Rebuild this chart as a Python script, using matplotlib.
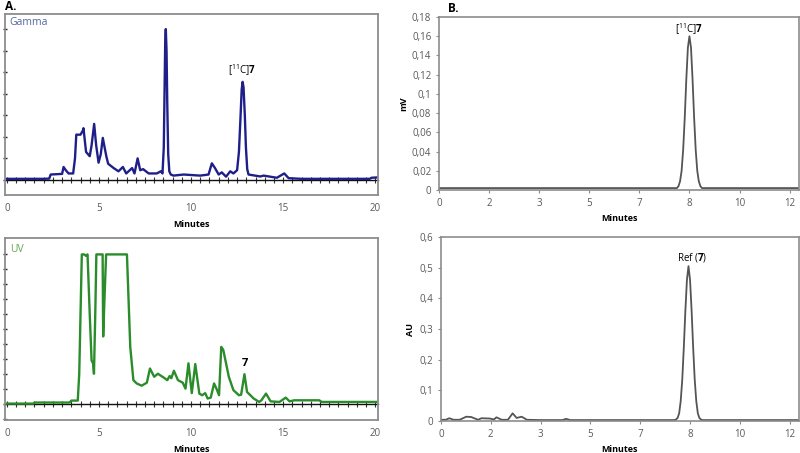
import numpy as np
import matplotlib
matplotlib.use("Agg")
import matplotlib.pyplot as plt
from matplotlib.ticker import FixedLocator, FuncFormatter

plt.rcParams['font.family'] = ['Open Sans', 'DejaVu Sans']
plt.rcParams['mathtext.fontset'] = 'custom'
plt.rcParams['mathtext.rm'] = 'Open Sans'
plt.rcParams['mathtext.bf'] = 'Open Sans:bold'

# ---------------- data ----------------
gamma_t = [0.0, 1.0, 2.0, 2.3, 2.38, 3.0, 3.08, 3.2, 3.35, 3.6, 3.7, 3.77, 4.0, 4.13, 4.16,
           4.3, 4.5, 4.6, 4.74, 4.85, 4.98, 5.1, 5.21, 5.4, 5.5, 5.8, 6.06, 6.3, 6.48, 6.8,
           6.93, 7.1, 7.24, 7.4, 7.7, 8.14, 8.36, 8.45, 8.52, 8.56, 8.60, 8.63, 8.67, 8.71,
           8.76, 8.82, 8.9, 9.05, 9.6, 10.5, 10.95, 11.13, 11.3, 11.5, 11.67, 11.9, 12.13,
           12.3, 12.5, 12.6, 12.68, 12.75, 12.8, 12.85, 12.92, 12.98, 13.05, 13.12, 13.76,
           13.94, 14.66, 15.06, 15.3, 16.0, 18.0, 19.7, 19.8, 20.2]
gamma_y = [0.05, 0.05, 0.05, 0.06, 0.25, 0.28, 0.6, 0.45, 0.3, 0.3, 1.0, 2.1, 2.1, 2.3, 2.4,
           1.3, 1.1, 1.6, 2.6, 1.6, 0.8, 1.2, 1.95, 1.1, 0.75, 0.55, 0.4, 0.6, 0.3, 0.55,
           0.3, 1.0, 0.45, 0.5, 0.3, 0.3, 0.4, 0.3, 1.5, 4.0, 6.5, 7.0, 6.0, 3.5,
           1.2, 0.4, 0.25, 0.2, 0.25, 0.2, 0.25, 0.77, 0.55, 0.25, 0.35, 0.15, 0.4,
           0.3, 0.45, 1.3, 2.8, 4.2, 4.55, 4.3, 3.0, 1.5, 0.5, 0.25, 0.16,
           0.2, 0.1, 0.3, 0.08, 0.05, 0.05, 0.05, 0.1, 0.12]

uv_t = [0.0, 1.45, 1.5, 3.4, 3.5, 3.85, 3.93, 4.07, 4.2, 4.3, 4.38, 4.5, 4.6, 4.68, 4.73,
        4.8, 4.86, 5.2, 5.23, 5.3, 5.39, 6.52, 6.7, 6.87, 7.05, 7.32, 7.6, 7.77, 8.0, 8.2,
        8.57, 8.71, 8.84, 8.93, 9.07, 9.29, 9.55, 9.7, 9.86, 10.04, 10.23, 10.45, 10.6,
        10.77, 10.9, 11.07, 11.25, 11.38, 11.52, 11.64, 11.75, 12.05, 12.3, 12.6, 12.72,
        12.9, 13.04, 13.4, 13.7, 13.82, 14.07, 14.32, 14.8, 15.14, 15.35, 15.6, 16.96,
        17.1, 20.2]
uv_y = [0.0, 0.0, 0.07, 0.07, 0.2, 0.2, 2.0, 10.0, 10.0, 9.9, 10.0, 6.0, 2.9, 2.7, 2.0,
        6.0, 10.0, 10.0, 4.5, 7.0, 10.0, 10.0, 3.8, 1.57, 1.35, 1.2, 1.4, 2.35, 1.8, 2.0,
        1.7, 1.57, 1.85, 1.7, 2.2, 1.57, 1.4, 1.0, 2.7, 0.7, 2.65, 0.67, 0.56,
        0.7, 0.34, 0.4, 1.35, 1.0, 0.56, 3.8, 3.6, 1.8, 0.9, 0.56, 0.6,
        1.97, 0.78, 0.34, 0.11, 0.22, 0.67, 0.15, 0.11, 0.4, 0.15, 0.22, 0.22,
        0.11, 0.11]

mv_t = [0.0, 1.0, 2.0, 4.0, 6.0, 7.0, 7.6, 7.65, 7.7, 7.75, 7.8, 7.85, 7.9, 7.95, 8.0,
        8.05, 8.1, 8.15, 8.2, 8.25, 8.3, 8.35, 8.4, 9.0, 10.0, 11.5]
mv_y = [0.002, 0.002, 0.002, 0.002, 0.002, 0.002, 0.002, 0.004, 0.009, 0.02, 0.042, 0.075,
        0.115, 0.148, 0.16, 0.148, 0.115, 0.075, 0.042, 0.02, 0.009, 0.004, 0.002, 0.002,
        0.002, 0.002]

au_t = [0.0, 0.15, 0.27, 0.4, 0.6, 0.81, 0.97, 1.19, 1.30, 1.57, 1.7, 1.78, 1.95, 2.15,
        2.30, 2.43, 2.59, 2.76, 3.2, 3.9, 4.02, 4.15, 5.0, 6.5, 7.4, 7.5, 7.55, 7.6, 7.65,
        7.7, 7.75, 7.8, 7.85, 7.9, 7.95, 8.0, 8.05, 8.1, 8.15, 8.2, 8.25, 8.3, 8.35, 8.4,
        9.0, 10.0, 11.5]
au_y = [0.004, 0.004, 0.009, 0.004, 0.004, 0.014, 0.013, 0.004, 0.009, 0.008, 0.005,
        0.012, 0.004, 0.004, 0.025, 0.01, 0.014, 0.004, 0.003, 0.003, 0.007, 0.003, 0.003,
        0.003, 0.003, 0.003, 0.005, 0.01, 0.025, 0.065, 0.135, 0.24, 0.36, 0.46, 0.505,
        0.46, 0.36, 0.24, 0.135, 0.065, 0.025, 0.01, 0.005, 0.003, 0.003, 0.003, 0.003]

left_xticks = [0, 5, 10, 15, 20]
left_xticklabels = ['0', '5', '10', '15', '20']
right_tick_min = [0.0, 1.6, 3.2, 4.8, 6.4, 8.0, 9.6, 11.2]
right_xticklabels = ['0', '2', '3', '5', '7', '8', '10', '12']
mv_yticks = [0, 0.02, 0.04, 0.06, 0.08, 0.1, 0.12, 0.14, 0.16, 0.18]
au_yticks = [0, 0.1, 0.2, 0.3, 0.4, 0.5, 0.6]

# ---------------- figure ----------------
W, H = 800, 453
fig = plt.figure(figsize=(8, 4.53), dpi=100)

def rect(l, t, r, b):
    return [l / W, 1 - b / H, (r - l) / W, (b - t) / H]

box_col = '#8c8c8c'
tick_col = '#595959'

def comma_fmt(v, pos):
    s = ('%.2f' % v).rstrip('0').rstrip('.')
    return s.replace('.', ',')

def left_panel(ax, t, y, color, ylim, yticks, label, label_color, label_y):
    ax.plot(t, y, color=color, lw=1.7, solid_joinstyle='round')
    ax.set_xlim(-0.1, 20.15)
    ax.set_ylim(*ylim)
    for s in ax.spines.values():
        s.set_color(box_col)
        s.set_linewidth(1.3)
    ax.set_xticks(left_xticks)
    ax.set_xticklabels(left_xticklabels)
    ax.tick_params(axis='x', length=0, pad=6, labelsize=7, labelcolor=tick_col)
    ax.set_yticks(yticks)
    ax.set_yticklabels([])
    ax.tick_params(axis='y', direction='inout', length=3.5, width=1.0, color='#222222')
    ax.set_xlabel('Minutes', fontsize=6.5, fontweight='bold', labelpad=4)
    loc = (0 - ylim[0]) / (ylim[1] - ylim[0])
    sec = ax.secondary_xaxis(loc)
    sec.spines['bottom'].set_color('#111111')
    sec.spines['bottom'].set_linewidth(1.0)
    sec.set_xticks(np.arange(0, 20.01, 0.5))
    sec.set_xticklabels([])
    sec.tick_params(direction='inout', length=4, width=0.8, color='#333333')
    ax.text(0.013, label_y, label, transform=ax.transAxes, color=label_color,
            fontsize=7.5, ha='left', va='center')

axA1 = fig.add_axes(rect(5, 14, 378, 195))
left_panel(axA1, gamma_t, gamma_y, '#1f1f8a', (-0.7, 7.7), list(range(0, 8)),
           'Gamma', '#5566a0', 0.955)
axA1.text(12.75, 5.1, r'$[^{11}\mathrm{C}]\mathbf{7}$', fontsize=7, ha='center', va='center')

axA2 = fig.add_axes(rect(5, 238, 378, 420))
left_panel(axA2, uv_t, uv_y, '#2a8c2a', (-1.1, 11.1), list(range(-1, 11)),
           'UV', '#66aa55', 0.935)
axA2.text(12.95, 2.7, '7', fontsize=8, fontweight='bold', ha='center', va='center')

def right_panel(ax, t, y, ylim, yticks, ylabel):
    ax.plot(t, y, color='#555555', lw=1.3)
    ax.set_xlim(0, 11.5)
    ax.set_ylim(*ylim)
    for s in ax.spines.values():
        s.set_color(box_col)
        s.set_linewidth(1.2)
    ax.xaxis.set_major_locator(FixedLocator(right_tick_min))
    ax.set_xticklabels(right_xticklabels)
    ax.set_yticks(yticks)
    ax.yaxis.set_major_formatter(FuncFormatter(comma_fmt))
    ax.tick_params(axis='both', length=2.5, width=0.8, color=box_col, labelsize=7,
                   labelcolor=tick_col, pad=3)
    ax.set_xlabel('Minutes', fontsize=6.5, fontweight='bold', labelpad=4)
    ax.set_ylabel(ylabel, fontsize=6.5, fontweight='bold', labelpad=3)

axB1 = fig.add_axes(rect(439, 17, 799, 190))
right_panel(axB1, mv_t, mv_y, (0, 0.18), mv_yticks, 'mV')
axB1.text(7.97, 0.167, r'$[^{11}\mathrm{C}]\mathbf{7}$', fontsize=7, ha='center', va='center')

axB2 = fig.add_axes(rect(441, 237, 799, 421))
right_panel(axB2, au_t, au_y, (0, 0.6), au_yticks, 'AU')
axB2.text(8.05, 0.533, r'Ref ($\mathbf{7}$)', fontsize=7, ha='center', va='center')

fig.text(5 / W, 1 - 7 / H, 'A.', fontsize=8.5, fontweight='bold', ha='left', va='center')
fig.text(448 / W, 1 - 8 / H, 'B.', fontsize=8.5, fontweight='bold', ha='left', va='center')

fig.savefig('out.png', dpi=100)
